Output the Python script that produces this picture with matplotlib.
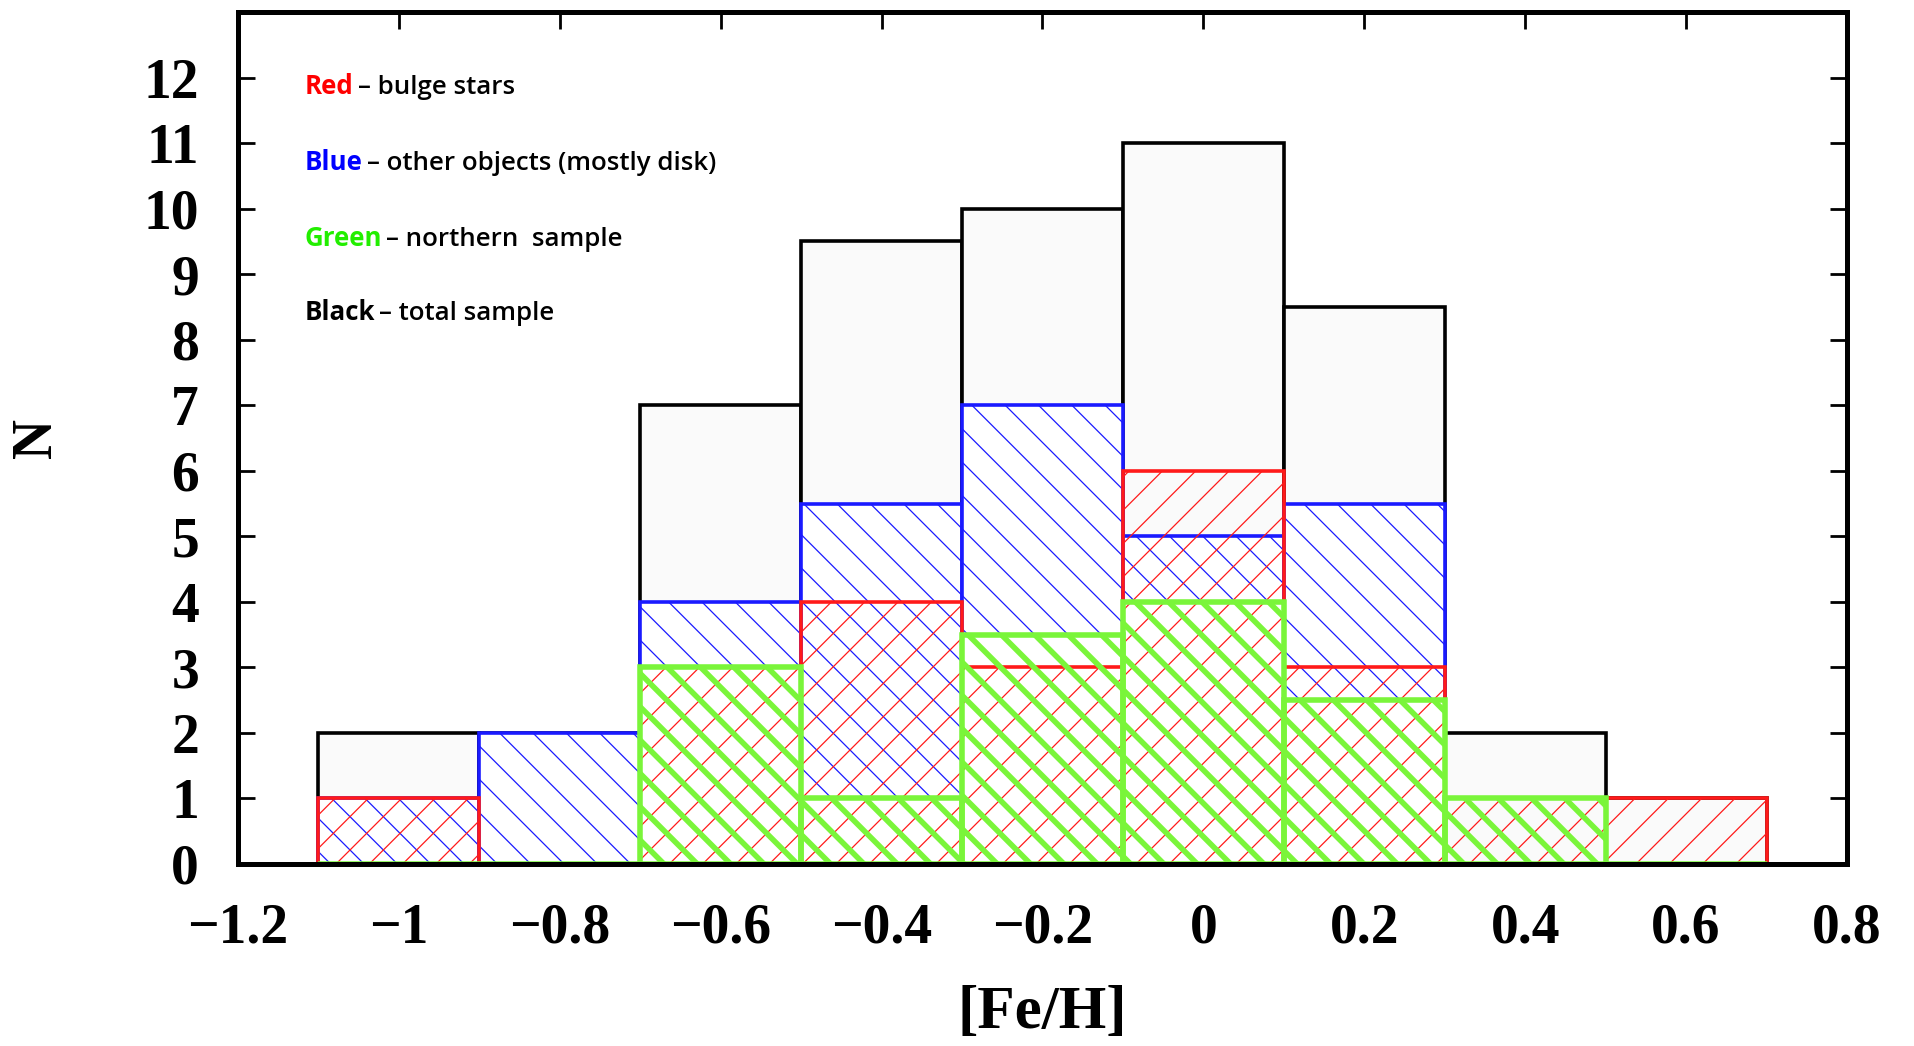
import matplotlib
matplotlib.use("Agg")
import matplotlib.pyplot as plt
import numpy as np

# ---- data ----
bin_left = [-1.1, -0.9, -0.7, -0.5, -0.3, -0.1, 0.1, 0.3, 0.5]
bin_width = 0.2
total = [2, 2, 7, 9.5, 10, 11, 8.5, 2, 1]
blue_other = [1, 2, 4, 5.5, 7, 5, 5.5, 0, 0]
red_bulge = [1, 0, 3, 4, 3, 6, 3, 1, 1]
green_north = [0, 0, 3, 1, 3.5, 4, 2.5, 1, 0]

xticks = [-1.2, -1.0, -0.8, -0.6, -0.4, -0.2, 0.0, 0.2, 0.4, 0.6, 0.8]
xtick_labels = ['\u22121.2', '\u22121', '\u22120.8', '\u22120.6', '\u22120.4', '\u22120.2',
                '0', '0.2', '0.4', '0.6', '0.8']
yticks = list(range(0, 13))

legend_entries = [("Red", "#ff0000", "\u2013 bulge stars"),
                  ("Blue", "#0000ff", "\u2013 other objects (mostly disk)"),
                  ("Green", "#22ee00", "\u2013 northern  sample"),
                  ("Black", "#000000", "\u2013 total sample")]
legend_y = [11.87, 10.71, 9.55, 8.41]

RED = "#ff1a1a"
BLUE = "#1a1aff"
GREEN = "#7af53a"

fig = plt.figure(figsize=(9.57, 5.23), dpi=200)
ax = fig.add_axes([0.1243, 0.174, 0.8407, 0.8145])
ax.set_axisbelow(True)


def draw(values, fc, ec, hatch, lw, hlw, z):
    with plt.rc_context({'hatch.linewidth': hlw}):
        bars = ax.bar(bin_left, values, width=bin_width, align='edge',
                      facecolor=fc, edgecolor=ec, hatch=hatch, linewidth=lw, zorder=z)
    for b in bars:
        if hasattr(b, 'set_hatch_linewidth'):
            b.set_hatch_linewidth(hlw)
    return bars


draw(total, '#fafafa', 'black', None, 1.3, 0.4, 1)
draw(blue_other, 'white', BLUE, '\\\\', 1.3, 0.45, 2)
draw(red_bulge, 'none', RED, '//', 1.3, 0.45, 3)
draw(green_north, 'none', GREEN, '\\\\', 2.0, 2.0, 4)

ax.set_xlim(-1.2, 0.8)
ax.set_ylim(0, 13)
ax.set_xticks(xticks)
ax.set_xticklabels(xtick_labels)
ax.set_yticks(yticks)

for s in ax.spines.values():
    s.set_linewidth(1.8)
    s.set_zorder(10)

ax.tick_params(direction='in', length=6, width=1.0, top=True, right=True,
               labelsize=20, pad=14)
for lab in ax.get_xticklabels() + ax.get_yticklabels():
    lab.set_fontfamily('Liberation Serif')
    lab.set_fontweight('bold')

ax.set_xlabel('[Fe/H]', fontsize=22, fontfamily='Liberation Serif', fontweight='bold')
ax.xaxis.set_label_coords(0.5, -0.175)
ax.xaxis.label.set_va('center')
ax.set_ylabel('N', fontsize=20, fontfamily='Liberation Serif', fontweight='bold')
ax.yaxis.set_label_coords(-0.125, 0.5)
ax.yaxis.label.set_va('center')

for (word, col, rest), y in zip(legend_entries, legend_y):
    t = ax.text(-1.117, y, word, color=col, fontsize=9.3, fontweight='bold',
                fontfamily='Open Sans', va='center', ha='left', zorder=20)
    ax.annotate(rest, xy=(1, 0), xycoords=t, xytext=(1.5, 0), textcoords='offset points',
                va='bottom', ha='left', fontsize=9.3, fontfamily='Open Sans',
                fontweight='semibold', color='black', zorder=20)

fig.savefig('out.png', dpi=200)
